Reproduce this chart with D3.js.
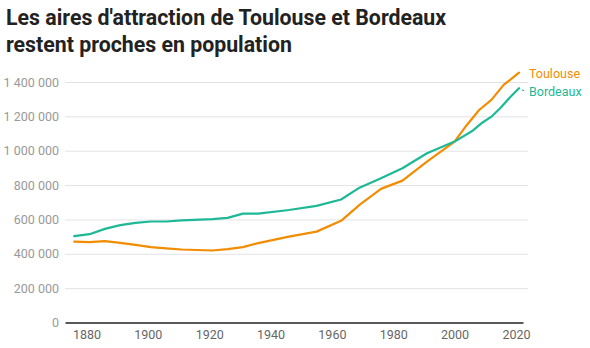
<!DOCTYPE html>
<html>
<head>
<meta charset="utf-8">
<script src="https://cdn.jsdelivr.net/npm/d3@7"></script>
<style>
  body { margin: 0; background: #fff; font-family: Roboto, sans-serif; }
</style>
</head>
<body>
<script>
(function () {
    'use strict';

    var titleLines = ["Les aires d'attraction de Toulouse et Bordeaux", "restent proches en population"];

    var yearsBordeaux = [1876, 1881, 1886, 1891, 1896, 1901, 1906, 1911, 1921, 1926, 1931, 1936, 1946, 1955, 1963, 1969, 1976, 1983, 1991, 2000, 2006, 2009, 2012, 2015, 2018, 2021];
    var bordeaux = [503000, 514000, 545000, 567000, 580000, 588000, 588000, 595000, 602000, 609000, 634000, 634000, 655000, 679000, 716000, 785000, 840000, 898000, 985000, 1053000, 1118000, 1163000, 1198000, 1250000, 1310000, 1364000];

    var yearsToulouse = [1876, 1881, 1886, 1891, 1896, 1901, 1906, 1911, 1921, 1926, 1931, 1936, 1946, 1955, 1963, 1969, 1976, 1983, 1991, 2000, 2004, 2008, 2012, 2016, 2019, 2021];
    var toulouse = [471000, 468000, 474000, 464000, 452000, 439000, 432000, 425000, 419000, 427000, 439000, 462000, 500000, 529000, 592000, 685000, 778000, 826000, 937000, 1053000, 1150000, 1237000, 1296000, 1383000, 1425000, 1454000];

    var yTicks = [0, 200000, 400000, 600000, 800000, 1000000, 1200000, 1400000];
    var xTicks = [1880, 1900, 1920, 1940, 1960, 1980, 2000, 2020];

    var width = 590, height = 348;
    var svg = d3.select('body')
        .append('svg')
        .attr('width', width)
        .attr('height', height);

    svg.selectAll('text.title')
        .data(titleLines)
        .enter()
        .append('text')
        .attr('class', 'title')
        .attr('x', 6)
        .attr('y', function (d, i) { return 25 + i * 27; })
        .attr('font-size', 21.3)
        .attr('font-weight', 'bold')
        .attr('fill', '#222')
        .text(function (d) { return d; });

    var x = d3.scaleLinear().domain([1873, 2022.3]).range([65, 523]);
    var y = d3.scaleLinear().domain([0, 1400000]).range([322.5, 82]);

    var fmt = function (d) {
        return d3.format(',')(d).replace(/,/g, ' ');
    };

    // grid
    svg.append('g')
        .attr('transform', 'translate(65,0)')
        .call(d3.axisLeft(y).tickValues(yTicks).tickSize(-463).tickFormat(fmt).tickPadding(6))
        .call(function (g) {
            g.select('.domain').remove();
            g.selectAll('.tick line').attr('stroke', '#e3e3e3').attr('stroke-width', 1);
            g.selectAll('.tick text').attr('fill', '#999').attr('font-size', 12.5)
                .attr('font-family', 'Roboto, sans-serif');
            g.selectAll('.tick').filter(function (d) { return d === 0; }).select('line').remove();
        });

    svg.append('g')
        .attr('transform', 'translate(0,' + y(0) + ')')
        .call(d3.axisBottom(x).tickValues(xTicks).tickSize(0).tickFormat(d3.format('d')).tickPadding(8))
        .call(function (g) {
            g.select('.domain').attr('stroke', '#222').attr('stroke-width', 1.5);
            g.selectAll('.tick text').attr('fill', '#666').attr('font-size', 12.5)
                .attr('font-family', 'Roboto, sans-serif');
        });

    var series = [
        { name: 'Toulouse', years: yearsToulouse, values: toulouse, color: '#f28c00' },
        { name: 'Bordeaux', years: yearsBordeaux, values: bordeaux, color: '#1db997' }
    ];

    var line = d3.line()
        .x(function (d) { return x(d[0]); })
        .y(function (d) { return y(d[1]); });

    series.forEach(function (s) {
        var pts = d3.zip(s.years, s.values);
        svg.append('path')
            .datum(pts)
            .attr('fill', 'none')
            .attr('stroke', s.color)
            .attr('stroke-width', 2.2)
            .attr('stroke-linejoin', 'round')
            .attr('stroke-linecap', 'round')
            .attr('d', line);
    });

    // end labels
    var last = function (s) { return [s.years[s.years.length - 1], s.values[s.values.length - 1]]; };
    var tl = last(series[0]), bl = last(series[1]);
    svg.append('text')
        .attr('x', x(tl[0]) + 10)
        .attr('y', y(tl[1]) + 1.5)
        .attr('dominant-baseline', 'middle')
        .attr('font-size', 12.5)
        .attr('fill', series[0].color)
        .text(series[0].name);
    svg.append('line')
        .attr('x1', x(bl[0]) + 3).attr('y1', y(bl[1]) + 1.5)
        .attr('x2', x(bl[0]) + 5).attr('y2', y(bl[1]) + 2.5)
        .attr('stroke', series[1].color).attr('stroke-width', 1.2);
    svg.append('text')
        .attr('x', x(bl[0]) + 10)
        .attr('y', y(bl[1]) + 5)
        .attr('dominant-baseline', 'middle')
        .attr('font-size', 12.5)
        .attr('fill', series[1].color)
        .text(series[1].name);
}());
</script>
</body>
</html>
